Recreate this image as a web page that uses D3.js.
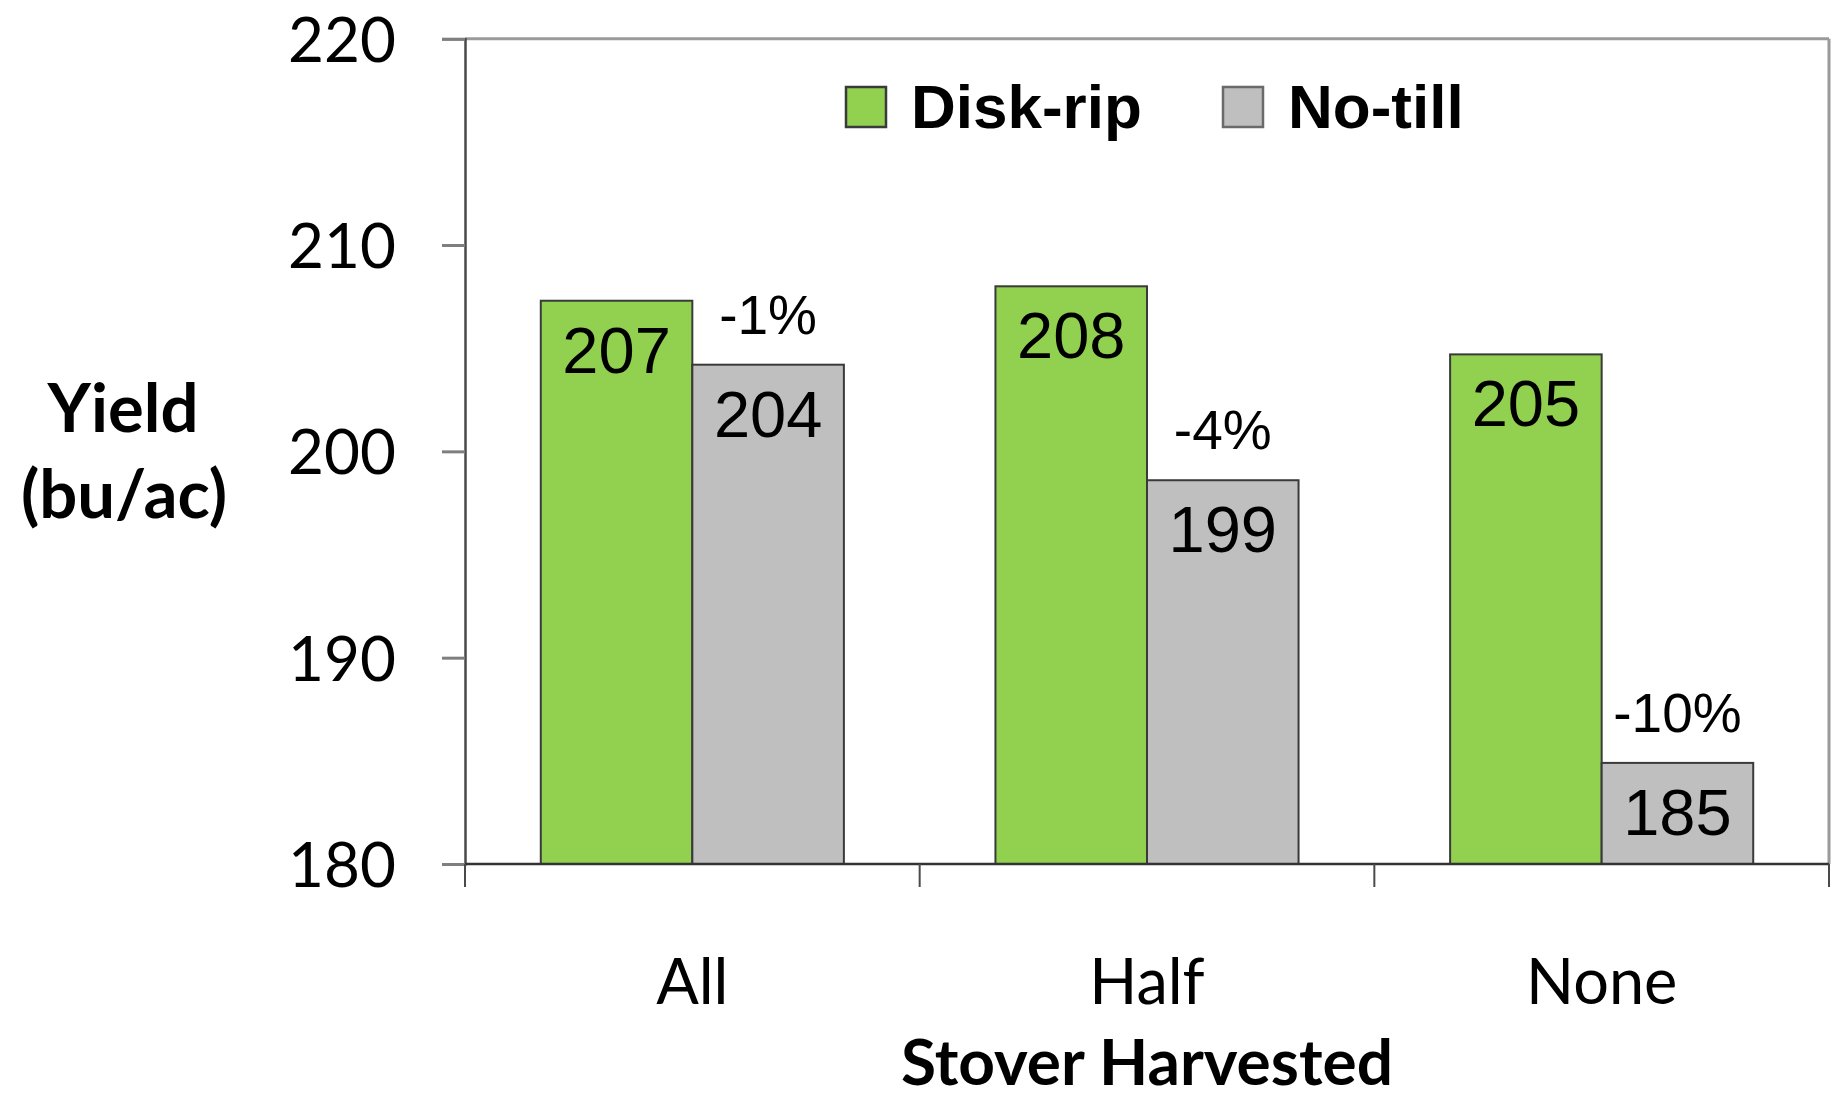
<!DOCTYPE html>
<html>
<head>
<meta charset="utf-8">
<script src="https://cdn.jsdelivr.net/npm/d3@7"></script>
<style>
  html, body { margin: 0; padding: 0; background: #ffffff; }
  svg { display: block; }
</style>
</head>
<body>
<svg id="chart" width="1837" height="1100"></svg>
<script>
const categories = ["All", "Half", "None"];
const seriesNames = ["Disk-rip", "No-till"];
const diskRip = [207.3, 208.0, 204.7];
const noTill = [204.2, 198.6, 184.9];
const pctLabels = ["-1%", "-4%", "-10%"];
const yTicks = [180, 190, 200, 210, 220];
const colors = ["#92D050", "#BFBFBF"];

(function () {
const svg = d3.select("#chart");
const pL = 465, pR = 1829, pT = 38.7, pB = 864;

const x0 = d3.scaleBand().domain(categories).range([pL, pR]).paddingInner(0).paddingOuter(0);
const x1 = d3.scaleBand().domain(seriesNames).range([0, x0.bandwidth()]).paddingInner(0).paddingOuter(0.5);
const y = d3.scaleLinear().domain([180, 220]).range([pB, pT]);

// top & right border
svg.append("line").attr("x1", pL).attr("x2", pR).attr("y1", pT).attr("y2", pT)
  .attr("stroke", "#9a9a9a").attr("stroke-width", 3);
svg.append("line").attr("x1", pR).attr("x2", pR).attr("y1", pT).attr("y2", pB)
  .attr("stroke", "#9a9a9a").attr("stroke-width", 3);

// bars
const rows = categories.map((c, i) => ({cat: c, vals: [diskRip[i], noTill[i]], pct: pctLabels[i]}));
const groups = svg.append("g").selectAll("g").data(rows).join("g")
  .attr("transform", d => `translate(${x0(d.cat)},0)`);

groups.selectAll("rect").data(d => d.vals.map((v, j) => ({s: seriesNames[j], v, j})))
  .join("rect")
  .attr("x", d => x1(d.s))
  .attr("y", d => y(d.v))
  .attr("width", x1.bandwidth())
  .attr("height", d => y(180) - y(d.v))
  .attr("fill", d => colors[d.j])
  .attr("stroke", "#3a3a3a")
  .attr("stroke-width", 2);

groups.selectAll("text.val").data(d => d.vals.map((v, j) => ({s: seriesNames[j], v, j})))
  .join("text").attr("class", "val")
  .attr("x", d => x1(d.s) + x1.bandwidth() / 2)
  .attr("y", d => y(d.v) + 72)
  .attr("text-anchor", "middle")
  .attr("font-family", "Liberation Sans, Arial, sans-serif")
  .attr("font-size", 65)
  .attr("fill", "#000")
  .text(d => Math.round(d.v));

groups.append("text")
  .attr("x", x1("No-till") + x1.bandwidth() / 2)
  .attr("y", d => y(d.vals[1]) - 31)
  .attr("text-anchor", "middle")
  .attr("font-family", "Liberation Sans, Arial, sans-serif")
  .attr("font-size", 55)
  .attr("fill", "#000")
  .text(d => d.pct);

// y axis
const yAxis = d3.axisLeft(y).tickValues(yTicks).tickSize(23).tickPadding(46).tickFormat(d3.format("d"));
const yg = svg.append("g").attr("transform", `translate(${pL},0)`).call(yAxis);
yg.select(".domain").attr("stroke", "#4a4a4a").attr("stroke-width", 2.5);
yg.selectAll(".tick line").attr("stroke", "#7f7f7f").attr("stroke-width", 3);
yg.selectAll(".tick text")
  .attr("font-family", "Lato, sans-serif").attr("font-size", 62).attr("fill", "#000")
  .attr("dy", "0.36em");

// x axis (ticks at band boundaries)
const boundaries = categories.map(c => x0(c)).concat([x0.range()[1]]);
const xg = svg.append("g");
xg.append("line").attr("x1", pL).attr("x2", pR).attr("y1", pB).attr("y2", pB)
  .attr("stroke", "#333").attr("stroke-width", 2.5);
xg.selectAll("line.xt").data(boundaries).join("line").attr("class", "xt")
  .attr("x1", d => d).attr("x2", d => d).attr("y1", pB).attr("y2", pB + 23)
  .attr("stroke", "#4a4a4a").attr("stroke-width", 2);
xg.selectAll("text").data(categories).join("text")
  .attr("x", d => x0(d) + x0.bandwidth() / 2)
  .attr("y", 1004)
  .attr("text-anchor", "middle")
  .attr("font-family", "Lato, sans-serif").attr("font-size", 63).attr("fill", "#000")
  .text(d => d);

// axis titles
svg.append("text").attr("x", 1147).attr("y", 1085).attr("text-anchor", "middle")
  .attr("font-family", "Lato, sans-serif").attr("font-weight", "bold").attr("font-size", 64)
  .attr("fill", "#000").text("Stover Harvested");
const yt = svg.append("text").attr("text-anchor", "middle")
  .attr("font-family", "Lato, sans-serif").attr("font-weight", "bold").attr("font-size", 67)
  .attr("fill", "#000");
yt.append("tspan").attr("x", 123).attr("y", 432).text("Yield");
yt.append("tspan").attr("x", 124).attr("y", 518).text("(bu/ac)");

// legend
const legendX = [846, 1223];
const leg = svg.append("g").selectAll("g").data(seriesNames).join("g")
  .attr("transform", (d, i) => `translate(${legendX[i]},87)`);
leg.append("rect").attr("width", 40).attr("height", 40)
  .attr("fill", (d, i) => colors[i])
  .attr("stroke", (d, i) => i === 0 ? "#3a3a3a" : "#6a6a6a").attr("stroke-width", 2.5);
leg.append("text").attr("x", 65).attr("y", 41)
  .attr("font-family", "Liberation Sans, Arial, sans-serif").attr("font-weight", "bold")
  .attr("font-size", 62).attr("fill", "#000").text(d => d);
})();
</script>
</body>
</html>
